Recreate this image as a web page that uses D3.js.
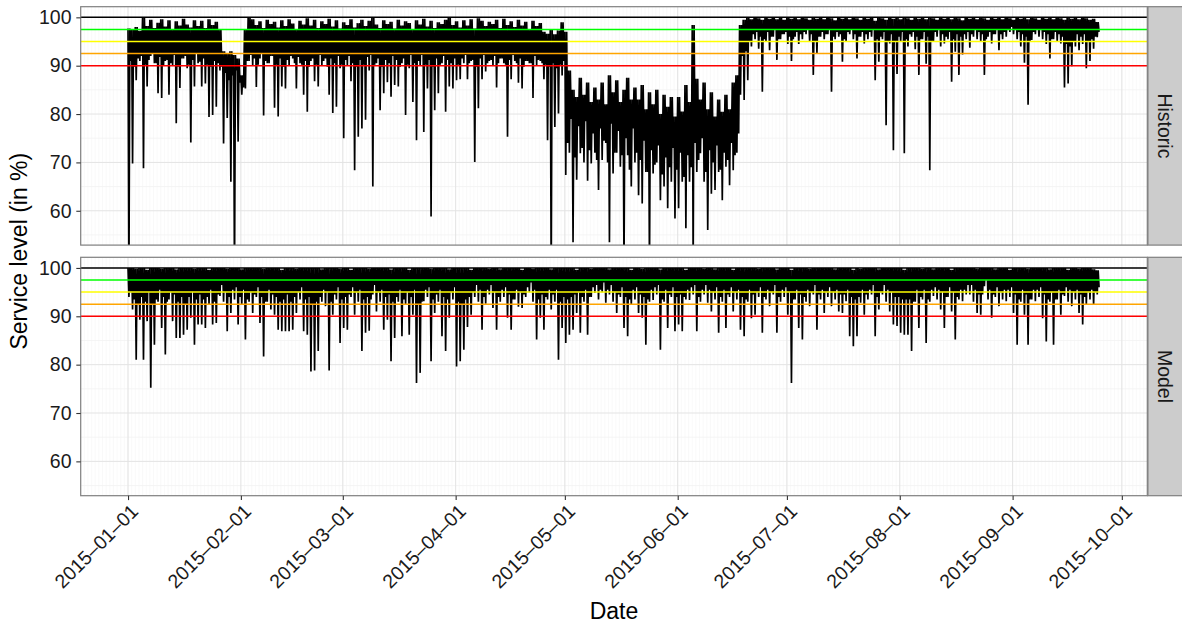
<!DOCTYPE html>
<html>
<head>
<meta charset="utf-8">
<script src="https://cdn.jsdelivr.net/npm/d3@7"></script>
<style>
body { margin: 0; background: #fff; }
svg { display: block; font-family: "Liberation Sans", Arial, sans-serif; }
</style>
</head>
<body>
<svg id="chart" width="1182" height="626"></svg>
<script>
// One value per day from 2015-01-01: daily max, deepest dip, and the usual (shallower) dip
var historicHigh = [
	97.7, 97.5, 98, 97.2, 100, 98.2, 99.5, 97.8, 98.9, 99.6,
	98.1, 99.4, 97.6, 99.2, 98.3, 99.7, 98.5, 97.9, 99.4, 98.2,
	99.3, 97.8, 99.6, 98.4, 99.1, 97.5, 93, 92.5, 93, 92.2,
	91.5, 88, 97.5, 99.9, 99.6, 98.4, 99.2, 97.8, 99.5, 98.6,
	99.1, 97.9, 99.4, 98.2, 99.6, 98.7, 97.6, 99.3, 98.5, 99.8,
	98.3, 99.5, 97.8, 99.2, 98.6, 99.7, 98.1, 99.4, 97.7, 99,
	98.4, 99.6, 97.9, 98.8, 99.5, 98.2, 99.3, 99.9, 98.5, 97.8,
	99.4, 98.6, 99.1, 97.7, 99.5, 98.3, 99.2, 98.8, 97.6, 99.4,
	98.5, 99.7, 98.1, 99.3, 97.8, 99, 98.6, 99.5, 99.9, 98.4,
	99.2, 97.9, 99.4, 98.3, 99.6, 97.7, 99.8, 99.3, 98.2, 99.1,
	98.6, 99.5, 97.8, 99.7, 98.4, 99.2, 98, 99.5, 98.3, 99.1,
	97.6, 99.3, 98.2, 98.8, 97, 96.6, 97.4, 96.5, 97.3, 99,
	97, 89, 85, 83.5, 87.5, 84, 86.5, 82.5, 85.5, 83,
	86.5, 82, 88, 84.5, 87, 82.5, 85, 87.5, 83, 85.5,
	83, 86, 81, 84.5, 82, 85, 80, 84, 81.5, 83.5,
	79.5, 83.5, 80.5, 86, 82.5, 98.4, 87.3, 83, 86.5, 81,
	84.5, 79.5, 83, 80.5, 84, 81, 86.5, 88, 98.4, 99.5,
	100, 99.6, 100, 99.8, 99.5, 100, 99.7, 100, 99.6, 99.9,
	99.5, 100, 99.7, 99.9, 99.6, 100, 99.8, 99.5, 100, 99.7,
	99.9, 99.6, 100, 99.8, 99.4, 100, 99.7, 99.9, 99.6, 100,
	99.8, 99.5, 100, 99.7, 99.9, 99.3, 100, 99.8, 99.5, 100,
	99.7, 99.9, 99.6, 100, 99.8, 99.5, 100, 99.7, 99.9, 99.6,
	100, 99.8, 99.5, 100, 99.7, 99.9, 99.6, 100, 99.8, 99.4,
	100, 99.7, 99.9, 99.6, 100, 99.8, 99.5, 100, 99.7, 99.9,
	99.6, 100, 99.8, 99.5, 100, 99.7, 99.9, 99.6, 100, 99.8,
	99.5, 100, 99.7, 99.9, 99.6, 100, 99.8, 99.5, 100, 99.7,
	99.9, 99.6, 100, 99.8, 99.5, 99.7, 99];

var historicLow = [
	45, 69.8, 87, 91, 68.8, 85.7, 92, 90.5, 84.3, 83.3,
	91, 84, 90, 78.1, 85.4, 91.5, 89.5, 74.1, 85.7, 90.5,
	85.7, 86.3, 79.4, 79.8, 81.5, 89, 73.9, 79.2, 66, 45,
	74.3, 84, 85.3, 91, 90, 85.6, 91.5, 79.7, 90.5, 92,
	81.3, 79.5, 85.7, 85.3, 90, 91.5, 85.3, 90.5, 84, 80.5,
	91, 86.8, 85.7, 90, 91.5, 84, 80.2, 81.5, 89.5, 75,
	90, 86.8, 68.4, 75.3, 77, 78.8, 89, 65, 90.5, 80.8,
	84.3, 86.6, 83.6, 86, 85.7, 90.5, 79.8, 89.5, 82.5, 74.6,
	90, 76.3, 85.3, 58.8, 80.8, 84.3, 90.5, 80.5, 85.7, 85.3,
	87, 87.2, 90.5, 87.2, 91, 70.1, 81.2, 87.2, 88.8, 91,
	90, 85.5, 91.5, 90.5, 75.3, 87.2, 91, 86.5, 85.3, 91,
	90.5, 83.3, 90, 91, 87.2, 74.6, 45, 77.3, 80.1, 88,
	67.4, 72, 53.5, 66.4, 71.9, 70, 66.2, 69.8, 72, 64.3,
	70.5, 74, 53.5, 67.7, 72, 69.1, 48, 71.5, 65, 70,
	63.2, 61.5, 68, 48, 67.7, 70, 62.2, 65, 60.5, 66,
	58.4, 60.5, 66, 56.4, 66, 48, 68, 71.9, 66, 56,
	63.5, 64.3, 68, 62.2, 69.1, 65.3, 68.4, 72, 84, 82.9,
	87, 94, 95.5, 93.5, 84.6, 95, 93.2, 96, 91.2, 95.5,
	96.5, 94.5, 91, 96, 94.5, 95.5, 96.5, 95, 88.1, 92.6,
	96, 95.5, 96.5, 84.6, 95.5, 96, 90.8, 95, 96.5, 95.5,
	91.5, 96, 94.6, 95.5, 96, 87, 90.8, 95.5, 77.7, 94.6,
	72.5, 88.3, 95, 71.9, 94, 96, 93.4, 88.1, 95.5, 90.4,
	68.4, 95, 96, 94, 94.6, 95.5, 86.7, 92.9, 88.1, 92.3,
	95.5, 93.7, 96, 95.5, 95, 88.1, 96, 94.6, 96.5, 93.2,
	95.5, 96, 97, 96.5, 95.5, 94, 90.6, 81.9, 95.3, 96.5,
	96, 95.5, 94.5, 91.5, 95.5, 95, 94.6, 85.5, 86.3, 89.9,
	94, 93.2, 94.5, 89.5, 91, 93.5, 95.9];

var historicUsual = [
	91, 89.8, 91.5, 92, 90.2, 91.2, 92.5, 90.5, 91.8, 90,
	91.2, 90.5, 92.2, 89.8, 91.5, 92, 90.2, 91.2, 92.4, 90.8,
	91.5, 90.2, 89.8, 91, 90.5, 89.8, 88.5, 87, 88, 89,
	86.5, 85.5, 91, 92.2, 91.5, 90.2, 92.5, 91, 90.5, 92,
	90.2, 91.5, 89.8, 91.2, 92, 90.5, 91.8, 90.2, 91, 89.8,
	91.5, 90.2, 92.2, 91, 89.8, 91.5, 90.5, 92, 90.2, 91.2,
	92, 90.5, 89.8, 91.2, 90.2, 91.8, 92.2, 90.2, 91.5, 89.8,
	91.2, 90.5, 92, 91.2, 89.8, 91.5, 90.2, 92.2, 90.5, 91,
	92.2, 90.2, 91.2, 89.8, 91.5, 90.2, 92, 91.2, 90.5, 91.5,
	90.2, 91.5, 92.2, 90.5, 91.2, 89.8, 91.5, 92.2, 90.5, 91.2,
	92, 90.5, 91.5, 90.2, 91.2, 92.2, 90.5, 91.5, 89.8, 91,
	90.5, 92, 91.2, 90.5, 90.2, 89.8, 90.5, 89.5, 90.2, 91,
	74, 79, 71, 77.5, 73, 78.5, 72.5, 76, 70.5, 77,
	74.5, 70, 78, 72, 76.5, 71.5, 75, 68.5, 77, 72,
	70.5, 74.5, 68, 72.5, 69.5, 73.5, 67.5, 71, 69, 73,
	68.5, 72, 67, 71.5, 69, 74, 70.5, 75, 68, 72.5,
	70, 73.5, 68.5, 72, 70.5, 74, 71.5, 76, 92, 93,
	95, 96.5, 97, 96, 95.5, 97, 96, 97.5, 95.5, 96.5,
	97, 96, 95.5, 97, 96.5, 97, 97.5, 96.5, 95, 96,
	97, 96.5, 97.5, 96, 97, 96.5, 95.5, 97, 97.5, 96.5,
	96, 97, 96.5, 97, 97.5, 95.5, 96, 97, 95, 96.5,
	95, 96, 97, 95.5, 96.5, 97, 96, 95.5, 97, 96,
	95, 97, 97.5, 96.5, 96, 97, 95.5, 96.5, 96, 96.5,
	97, 96.5, 97.5, 97, 96.5, 95.5, 97, 96.5, 97.5, 96.5,
	97, 97.5, 98, 97.5, 97, 96.5, 96, 95, 97, 97.5,
	97.5, 97, 96.5, 95.5, 97, 96.5, 96, 94.5, 94, 95,
	96.5, 96, 96.5, 95, 95.5, 96, 97];

var modelHigh = [
	100, 100, 99.8, 100, 100, 99.6, 100, 100, 100, 99.8,
	100, 100, 100, 99.7, 100, 100, 100, 100, 99.8, 100,
	100, 100, 99.6, 100, 100, 100, 100, 99.8, 100, 100,
	100, 99.7, 100, 100, 100, 100, 100, 99.8, 100, 100,
	100, 100, 99.6, 100, 100, 100, 99.8, 100, 100, 100,
	100, 100, 100, 99.7, 100, 100, 100, 100, 99.8, 100,
	100, 99.6, 100, 100, 100, 100, 99.8, 100, 100, 100,
	100, 100, 99.7, 100, 100, 100, 100, 99.6, 100, 100,
	100, 100, 100, 99.8, 100, 100, 100, 100, 99.7, 100,
	100, 100, 100, 100, 99.6, 100, 100, 100, 100, 99.8,
	100, 100, 99.7, 100, 100, 100, 100, 100, 99.6, 100,
	100, 99.8, 100, 100, 100, 100, 99.7, 100, 100, 100,
	100, 100, 100, 99.6, 100, 100, 100, 99.8, 100, 100,
	100, 100, 99.7, 100, 100, 100, 100, 100, 99.6, 100,
	100, 99.8, 100, 100, 100, 100, 99.7, 100, 100, 100,
	100, 100, 100, 99.6, 100, 100, 100, 100, 99.8, 100,
	100, 99.7, 100, 100, 100, 100, 99.6, 100, 100, 100,
	100, 100, 100, 99.8, 100, 100, 100, 100, 99.7, 100,
	100, 100, 99.6, 100, 100, 100, 100, 99.8, 100, 100,
	100, 100, 100, 100, 99.7, 100, 100, 100, 100, 99.6,
	100, 99.8, 100, 100, 100, 100, 99.7, 100, 100, 100,
	100, 100, 100, 99.6, 100, 100, 100, 100, 99.8, 100,
	100, 99.7, 100, 100, 100, 100, 99.6, 100, 100, 100,
	100, 100, 100, 99.8, 100, 100, 100, 100, 99.7, 100,
	100, 100, 99.6, 100, 100, 100, 100, 99.8, 100, 100,
	100, 100, 100, 99.7, 100, 100, 100, 100, 99.6, 100,
	100, 99.8, 100, 100, 100, 99.7, 99.5];

var modelLow = [
	94, 91.4, 81, 89.3, 81, 89, 75.2, 84.1, 93, 87.6,
	82.1, 93.5, 89, 85.5, 85.5, 86.2, 87.2, 89.7, 84.1, 88.3,
	88.3, 87.6, 92.5, 88.3, 88.6, 94.2, 93, 86.9, 90.7, 93.5,
	88.3, 92.5, 85.2, 93, 90.7, 94, 88.6, 81.7, 93, 91.4,
	90.3, 87.2, 86.9, 86.9, 86.9, 87.2, 90.7, 93.5, 86.9, 86.2,
	78.6, 78.8, 82.8, 93, 92.1, 78.8, 90.3, 93.5, 84.5, 87.6,
	87.2, 94, 90.3, 93, 82.8, 86.6, 87, 94.5, 91, 93,
	87.2, 89.3, 80.7, 85.5, 93, 85.9, 92.5, 86.2, 90.3, 76.2,
	78.3, 93.1, 94, 80.7, 90.7, 93, 85.9, 82.8, 89.7, 93.5,
	79.6, 80.7, 83.1, 87.8, 90.3, 94, 93, 87.2, 92.6, 94.5,
	91.7, 87.2, 93, 94, 89.7, 87.2, 93.5, 92, 91.7, 94,
	95, 93, 85.2, 89.7, 87.2, 93.5, 91.4, 93, 81, 87.6,
	84.5, 86.2, 87.2, 90.7, 86.6, 93, 86.2, 94, 94.8, 93.5,
	95, 92.8, 94.5, 93, 90.7, 94, 87.6, 85.9, 92.4, 93.5,
	90.7, 89.7, 84.1, 93, 93.4, 94.5, 83.1, 93, 87.6, 94,
	86.9, 88.3, 86.9, 93.5, 93.4, 94.5, 86.9, 93, 94.5, 92.8,
	91, 93.5, 86.6, 93, 87.6, 94, 91, 93.5, 87.2, 85.9,
	93, 89.6, 90.3, 94, 86.6, 93.5, 92.1, 94.5, 86.6, 93,
	94, 90.3, 76.2, 93.5, 87.6, 85.2, 93, 92.1, 94.5, 87.2,
	93.5, 90.7, 94, 92.1, 93.5, 91, 90.7, 93.1, 85.9, 83.8,
	85.9, 92.8, 90.3, 93.5, 94.5, 85.9, 91.4, 94.5, 93, 91,
	88.3, 88, 86.6, 86.2, 86.2, 82.8, 93, 87.6, 93.5, 84.5,
	93, 94.2, 93.5, 91.4, 87.6, 94, 91, 85.2, 93.5, 93.1,
	94.5, 94.5, 93, 90.7, 90.3, 96.2, 93.5, 89.7, 94, 92.1,
	93.5, 93.1, 94, 90.7, 84.1, 93, 90.3, 84.1, 93.5, 93.1,
	94, 89.6, 84.8, 93, 84.1, 93.5, 90.3, 94.2, 93, 92.1,
	93.5, 90.7, 88.3, 92.4, 93.5, 92.4, 94.5];

var modelUsual = [
	95, 93.5, 92.5, 94, 93, 95, 92.5, 93.5, 95.5, 94,
	93, 95, 94.5, 93, 94, 92.5, 94, 95, 93.5, 94.5,
	93.5, 94, 95.5, 93, 94.5, 96.5, 95, 94, 95.5, 96,
	94, 95.5, 93.5, 95, 94.5, 96, 94, 93, 95.5, 94.5,
	94, 93, 93.5, 94.5, 93, 94, 95, 96, 93.5, 94,
	92.5, 93, 94, 95.5, 95, 93, 94.5, 96, 93.5, 94,
	94.5, 96, 95, 95.5, 93.5, 94, 93.5, 96.5, 95, 95.5,
	94, 94.5, 93, 94, 95.5, 93.5, 95, 94, 95.5, 92.5,
	93, 95.5, 96, 93.5, 94.5, 95.5, 94, 93.5, 95, 96,
	93, 92.5, 93.5, 94, 95, 96.5, 95.5, 94, 95.5, 96.5,
	95, 94, 95.5, 96, 94.5, 93.5, 95.5, 95, 94.5, 96,
	97, 95.5, 93.5, 94.5, 94, 95.5, 94.5, 95.5, 93, 94,
	93.5, 94, 94.5, 95, 94, 95.5, 94, 96, 96.5, 95.5,
	97, 95.5, 96.5, 95, 94.5, 96, 94, 93.5, 95.5, 96,
	94.5, 94, 93.5, 95.5, 96, 96.5, 93.5, 95.5, 94.5, 96,
	94, 94.5, 94, 95.5, 96, 96.5, 94, 95.5, 96.5, 95.5,
	95, 96, 94, 95.5, 94.5, 96, 95, 95.5, 94, 93.5,
	95.5, 94.5, 95, 96, 94, 95.5, 95, 96.5, 94, 95.5,
	96, 95, 93.5, 95.5, 94.5, 94, 95.5, 95, 96.5, 94.5,
	95.5, 95, 96, 95, 95.5, 94.5, 94.5, 95.5, 94, 93.5,
	94, 95.5, 94.5, 95.5, 96.5, 94, 95, 96.5, 95.5, 95,
	94, 94, 93.5, 93.5, 93.5, 93, 95.5, 94, 95.5, 93.5,
	95.5, 96, 95.5, 95, 94, 96, 95, 94, 95.5, 95.5,
	96.5, 96.5, 95.5, 94.5, 94.5, 97.5, 95.5, 94.5, 96, 95,
	95.5, 95.5, 96, 94.5, 93.5, 95.5, 94.5, 93.5, 95.5, 95.5,
	96, 94.5, 93.5, 95, 93.5, 95.5, 94.5, 96, 95.5, 95,
	95.5, 94.5, 94, 95, 95.5, 95, 96];

var panelNames = ["Historic", "Model"];
var targetLevels = [100, 97.5, 95, 92.5, 90];
var targetColors = ["#000000", "#00ff00", "#ffff00", "#ffa500", "#ff0000"];
var yTicks = [60, 70, 80, 90, 100];
var yMinorTicks = [55, 65, 75, 85, 95];
var monthTicks = ["2015-01-01", "2015-02-01", "2015-03-01", "2015-04-01", "2015-05-01",
	"2015-06-01", "2015-07-01", "2015-08-01", "2015-09-01", "2015-10-01"];

var panelLeft = 80.7, panelRight = 1147.3, stripRight = 1182;
var panelTops = [6.7, 257.3], panelHeight = 238.4;
var dayMs = 864e5;
var firstDay = Date.UTC(2015, 0, 1);

var svg = d3.select("#chart");

var x = d3.scaleUtc()
	.domain([new Date(Date.UTC(2014, 11, 19)), new Date(Date.UTC(2015, 9, 8))])
	.range([panelLeft, panelRight]);

var y = d3.scaleLinear()
	.domain([52.9, 102.2])
	.range([panelHeight, 0]);

var parseDay = d3.utcParse("%Y-%m-%d");
var monthDates = monthTicks.map(parseDay);

// each day: peak, deepest dip, peak again, usual dip
var makePoints = function(high, low, usual)
{
	var pts = [];
	for (var i = 0; i < high.length; i++)
	{
		pts.push([new Date(firstDay + i * dayMs), high[i]]);
		pts.push([new Date(firstDay + (i + 0.25) * dayMs), low[i]]);
		pts.push([new Date(firstDay + (i + 0.5) * dayMs), high[i]]);
		pts.push([new Date(firstDay + (i + 0.75) * dayMs), usual[i]]);
	}
	return pts;
};

var series = [
	makePoints(historicHigh, historicLow, historicUsual),
	makePoints(modelHigh, modelLow, modelUsual)];

var line = d3.line()
	.x(function(d) { return x(d[0]); })
	.y(function(d) { return y(d[1]); });

var minorDays = d3.utcDay.range(x.domain()[0], x.domain()[1]);

panelNames.forEach(function(name, p)
{
	var g = svg.append("g").attr("transform", "translate(0," + panelTops[p] + ")");

	g.append("rect")
		.attr("x", panelLeft).attr("y", 0)
		.attr("width", panelRight - panelLeft).attr("height", panelHeight)
		.attr("fill", "#ffffff");

	// minor grid
	g.selectAll(".vminor").data(minorDays).enter().append("line")
		.attr("x1", function(d) { return x(d); }).attr("x2", function(d) { return x(d); })
		.attr("y1", 0).attr("y2", panelHeight)
		.attr("stroke", "#f5f5f5").attr("stroke-width", 0.6);
	g.selectAll(".hminor").data(yMinorTicks).enter().append("line")
		.attr("x1", panelLeft).attr("x2", panelRight)
		.attr("y1", function(d) { return y(d); }).attr("y2", function(d) { return y(d); })
		.attr("stroke", "#f2f2f2").attr("stroke-width", 0.8);

	// major grid
	g.selectAll(".vmajor").data(monthDates).enter().append("line")
		.attr("x1", function(d) { return x(d); }).attr("x2", function(d) { return x(d); })
		.attr("y1", 0).attr("y2", panelHeight)
		.attr("stroke", "#e3e3e3").attr("stroke-width", 1);
	g.selectAll(".hmajor").data(yTicks).enter().append("line")
		.attr("x1", panelLeft).attr("x2", panelRight)
		.attr("y1", function(d) { return y(d); }).attr("y2", function(d) { return y(d); })
		.attr("stroke", "#e3e3e3").attr("stroke-width", 1);

	var clipId = "clip" + p;
	g.append("clipPath").attr("id", clipId)
		.append("rect")
		.attr("x", panelLeft).attr("y", 0)
		.attr("width", panelRight - panelLeft).attr("height", panelHeight);

	g.append("path")
		.datum(series[p])
		.attr("clip-path", "url(#" + clipId + ")")
		.attr("d", line)
		.attr("fill", "none")
		.attr("stroke", "#000000")
		.attr("stroke-width", 1.7)
		.attr("stroke-linejoin", "miter");

	// service level targets
	g.selectAll(".target").data(targetLevels).enter().append("line")
		.attr("x1", panelLeft).attr("x2", panelRight)
		.attr("y1", function(d) { return y(d); }).attr("y2", function(d) { return y(d); })
		.attr("stroke", function(d, i) { return targetColors[i]; })
		.attr("stroke-width", 1.5);

	g.append("rect")
		.attr("x", panelLeft).attr("y", 0)
		.attr("width", panelRight - panelLeft).attr("height", panelHeight)
		.attr("fill", "none").attr("stroke", "#7f7f7f").attr("stroke-width", 1.2);

	// facet strip
	g.append("rect")
		.attr("x", panelRight + 0.6).attr("y", 0)
		.attr("width", stripRight - panelRight).attr("height", panelHeight)
		.attr("fill", "#cccccc").attr("stroke", "#7f7f7f").attr("stroke-width", 1.2);
	g.append("text")
		.attr("transform", "translate(" + (panelRight + 17.5) + "," + (panelHeight / 2) + ") rotate(90)")
		.attr("text-anchor", "middle")
		.attr("dominant-baseline", "central")
		.attr("font-size", 19.5)
		.attr("fill", "#1a1a1a")
		.text(name);

	// y axis
	var yAxis = g.append("g")
		.attr("transform", "translate(" + panelLeft + ",0)")
		.call(d3.axisLeft(y).tickValues(yTicks).tickSize(4.4).tickPadding(4.8));
	yAxis.select(".domain").remove();
	yAxis.selectAll("line").attr("stroke", "#333333").attr("stroke-width", 1.1);
	yAxis.selectAll("text")
		.attr("font-size", 19.5)
		.attr("font-family", "Liberation Sans, Arial, sans-serif")
		.attr("fill", "#1a1a1a");
});

// x axis below the bottom panel
var axisY = panelTops[1] + panelHeight;
var xAxis = svg.append("g")
	.attr("transform", "translate(0," + axisY + ")")
	.call(d3.axisBottom(x).tickValues(monthDates).tickSize(4.4)
		.tickFormat(function(d) { return d3.utcFormat("%Y-%m-%d")(d).replace(/-/g, "\u2013"); }));
xAxis.select(".domain").remove();
xAxis.selectAll("line").attr("stroke", "#333333").attr("stroke-width", 1.1);
xAxis.selectAll("text")
	.attr("x", 0).attr("y", 0).attr("dy", 0)
	.attr("text-anchor", "end")
	.attr("transform", "translate(11,17) rotate(-45)")
	.attr("font-size", 19.5)
	.attr("font-family", "Liberation Sans, Arial, sans-serif")
	.attr("fill", "#1a1a1a");

svg.append("text")
	.attr("x", (panelLeft + panelRight) / 2)
	.attr("y", 619)
	.attr("text-anchor", "middle")
	.attr("font-size", 23)
	.attr("fill", "#000000")
	.text("Date");

svg.append("text")
	.attr("transform", "translate(27," + ((panelTops[0] + axisY) / 2) + ") rotate(-90)")
	.attr("text-anchor", "middle")
	.attr("font-size", 23)
	.attr("fill", "#000000")
	.text("Service level (in %)");
</script>
</body>
</html>
